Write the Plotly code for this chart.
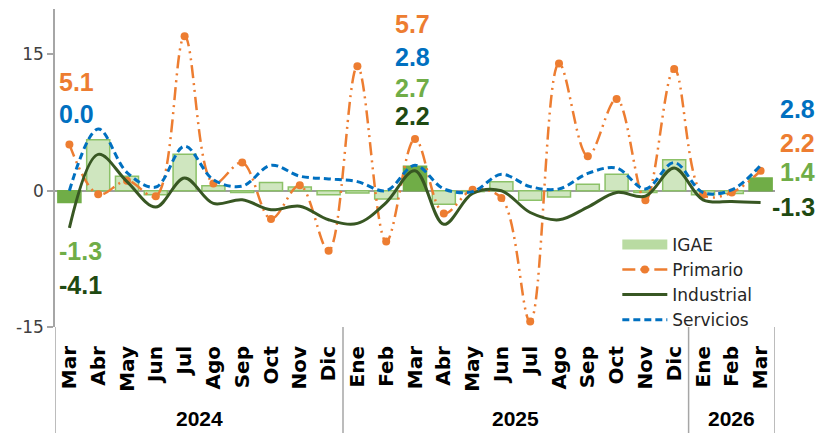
import plotly.graph_objects as go

months = ["Mar", "Abr", "May", "Jun", "Jul", "Ago", "Sep", "Oct", "Nov", "Dic",
          "Ene", "Feb", "Mar", "Abr", "May", "Jun", "Jul", "Ago", "Sep", "Oct", "Nov", "Dic",
          "Ene", "Feb", "Mar"]
years = ["2024"] * 10 + ["2025"] * 12 + ["2026"] * 3

igae = [-1.3, 5.6, 1.6, -0.45, 4.0, 0.55, -0.2, 0.9, 0.4, -0.45,
        -0.25, -0.9, 2.7, -1.5, -0.1, 1.0, -1.05, -0.7, 0.7, 1.8, -0.2, 3.4,
        -0.45, -0.3, 1.4]
primario = [5.1, -0.4, 1.1, -0.6, 17.0, 0.8, 3.1, -3.1, 0.6, -6.6,
            13.7, -5.6, 5.7, -2.5, 0.1, -0.8, -14.4, 14.0, 3.8, 10.1, -1.05, 13.4,
            -0.45, -0.2, 2.2]
industrial = [-4.1, 4.0, 1.0, -1.8, 1.4, -1.4, -1.0, -2.1, -1.7, -3.2,
              -3.6, -1.3, 2.2, -3.7, -0.3, 0.0, -2.4, -3.2, -1.8, -0.2, -0.6, 2.5,
              -1.0, -1.2, -1.3]
servicios = [0.0, 6.8, 2.0, 0.4, 4.9, 1.2, 0.5, 2.8, 1.6, 1.3,
             1.0, 0.0, 2.8, 0.2, -0.1, 1.8, 0.45, 0.2, 1.9, 2.5, 0.2, 3.1,
             -0.2, 0.1, 2.8]
y_ticks = [-15, 0, 15]

C_IGAE_HI = "#70AD47"
C_IGAE = "#cfe6bf"
C_IGAE_LINE = "#8cc168"
C_PRIM = "#ED7D31"
C_IND = "#385723"
C_IND_TXT = "#1f4a12"
C_SERV = "#0070C0"

x = list(range(len(months)))
hi = [m == "Mar" for m in months]

fig = go.Figure()
fig.add_trace(go.Bar(
    x=x, y=igae, name="IGAE", width=0.8, showlegend=False,
    marker=dict(color=[C_IGAE_HI if h else C_IGAE for h in hi],
                line=dict(color=[C_IGAE_HI if h else C_IGAE_LINE for h in hi], width=1.5)),
))
# legend swatch for IGAE (legend only)
fig.add_trace(go.Scatter(
    x=[None], y=[None], name="IGAE", mode="lines",
    line=dict(color="#b9dba2", width=10),
))
fig.add_trace(go.Scatter(
    x=x, y=primario, name="Primario", mode="lines+markers",
    line=dict(color=C_PRIM, width=2.5, shape="spline", dash="13px,5px,2px,5px,2px,5px"),
    marker=dict(size=8, color=C_PRIM),
))
fig.add_trace(go.Scatter(
    x=x, y=industrial, name="Industrial", mode="lines",
    line=dict(color=C_IND, width=3, shape="spline"),
))
fig.add_trace(go.Scatter(
    x=x, y=servicios, name="Servicios", mode="lines",
    line=dict(color=C_SERV, width=3, shape="spline", dash="7px,4px"),
))

ann_font = dict(family="Liberation Sans", size=25, weight="bold")
annotations = []


def add_label(val, color, xpos, ypos, xanchor, xref="paper", xshift=0):
    annotations.append(dict(
        text=f"{val:.1f}", x=xpos, y=ypos, xref=xref, yref="y",
        xanchor=xanchor, yanchor="middle", showarrow=False, xshift=xshift,
        font=dict(ann_font, color=color)))


# first month (left)
i0 = 0
add_label(primario[i0], C_PRIM, 0, 12.0, "left", xshift=2)
add_label(servicios[i0], C_SERV, 0, 8.4, "left", xshift=2)
add_label(igae[i0], C_IGAE_HI, 0, -6.65, "left", xshift=2)
add_label(industrial[i0], C_IND_TXT, 0, -10.4, "left", xshift=2)
# middle Mar 2025
i1 = 12
add_label(primario[i1], C_PRIM, i1, 18.35, "center", xref="x", xshift=-3)
add_label(servicios[i1], C_SERV, i1, 14.7, "center", xref="x", xshift=-3)
add_label(igae[i1], C_IGAE_HI, i1, 11.3, "center", xref="x", xshift=-3)
add_label(industrial[i1], C_IND_TXT, i1, 8.2, "center", xref="x", xshift=-3)
# last month (right)
i2 = len(months) - 1
add_label(servicios[i2], C_SERV, 1, 8.95, "right", xshift=42)
add_label(primario[i2], C_PRIM, 1, 5.3, "right", xshift=42)
add_label(igae[i2], C_IGAE_HI, 1, 2.1, "right", xshift=42)
add_label(industrial[i2], C_IND_TXT, 1, -1.8, "right", xshift=42)

# year labels and separators
uniq_years = []
for yv in years:
    if yv not in uniq_years:
        uniq_years.append(yv)
shapes = []
bounds = [-0.5]
for yv in uniq_years:
    idx = [i for i, v in enumerate(years) if v == yv]
    annotations.append(dict(
        text=yv, x=sum(idx) / len(idx), y=-0.289, xref="x", yref="paper",
        xanchor="center", yanchor="middle", showarrow=False,
        font=dict(family="Liberation Sans", size=21, weight="bold", color="black")))
    bounds.append(idx[-1] + 0.5)
for b in bounds:
    shapes.append(dict(type="line", xref="x", yref="paper", x0=b, x1=b, y0=0, y1=-0.34,
                       line=dict(color="#a6a6a6", width=1.5)))

# the page body has an 8px margin, so the figure is 8px smaller than the window
fig.update_layout(
    width=819, height=425,
    margin=dict(l=47, r=52, t=1, b=106),
    paper_bgcolor="white", plot_bgcolor="white",
    showlegend=True,
    legend=dict(x=0.781, y=0.315, xanchor="left", yanchor="top",
                bgcolor="rgba(0,0,0,0)", itemwidth=45, tracegroupgap=0,
                font=dict(family="DejaVu Sans", size=17, color="#262626")),
    annotations=annotations,
    shapes=shapes,
    xaxis=dict(range=[-0.5, len(months) - 0.5], tickmode="array", tickvals=x, ticktext=months,
               tickangle=-90, showgrid=False, showline=False, zeroline=False, ticks="",
               ticklabelstandoff=14,
               tickfont=dict(family="DejaVu Sans", size=20, weight="bold", color="black")),
    yaxis=dict(range=[-15, 20], tickmode="array", tickvals=y_ticks,
               ticktext=[str(v) for v in y_ticks],
               showgrid=False, zeroline=True, zerolinecolor="#9e9e9e", zerolinewidth=1.5,
               showline=True, linecolor="#a6a6a6", linewidth=1.5,
               ticks="outside", ticklen=6, tickcolor="#a6a6a6", tickwidth=1.5,
               tickfont=dict(family="DejaVu Sans", size=17, color="#404040")),
)

fig.write_html("out.html")
